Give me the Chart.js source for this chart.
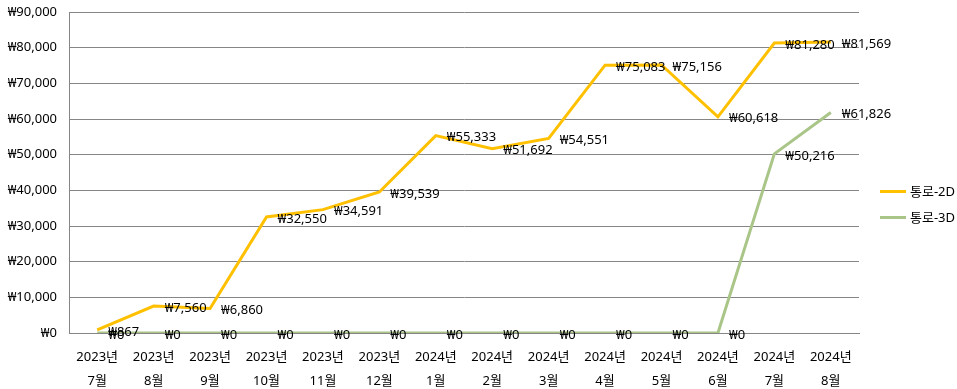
<!DOCTYPE html>
<html>
<head>
<meta charset="utf-8">
<script src="https://cdn.jsdelivr.net/npm/chart.js@4"></script>
<style>
  html, body { margin: 0; padding: 0; background: #fff; }
  #wrap { width: 957px; height: 389px; }
</style>
</head>
<body>
<div id="wrap"><canvas id="chart" width="957" height="389"></canvas></div>
<script>
// categories (year / month, shown on two lines)
const years = ['2023년', '2023년', '2023년', '2023년', '2023년', '2023년', '2024년',
               '2024년', '2024년', '2024년', '2024년', '2024년', '2024년', '2024년'];
const months = ['7월', '8월', '9월', '10월', '11월', '12월', '1월',
                '2월', '3월', '4월', '5월', '6월', '7월', '8월'];

// series values (won)
const values2D = [867, 7560, 6860, 32550, 34591, 39539, 55333,
                  51692, 54551, 75083, 75156, 60618, 81280, 81569];
const values3D = [0, 0, 0, 0, 0, 0, 0,
                  0, 0, 0, 0, 0, 50216, 61826];

// y axis
const yMin = 0;
const yMax = 90000;
const yStep = 10000;

const FONT = "'Noto Sans', 'Noto Sans CJK KR', sans-serif";
const won = v => '₩' + v.toLocaleString('en-US');

// draws each value to the right of its point
const pointLabels = {
    id: 'pointLabels',
    afterDatasetsDraw(chart) {
        const ctx = chart.ctx;
        ctx.save();
        ctx.font = '13px ' + FONT;
        ctx.fillStyle = '#000';
        ctx.textAlign = 'left';
        ctx.textBaseline = 'middle';
        chart.data.datasets.forEach((ds, i) => {
            const meta = chart.getDatasetMeta(i);
            meta.data.forEach((pt, j) => {
                ctx.fillText(won(ds.data[j]), pt.x + 11, pt.y + 2);
            });
        });
        ctx.restore();
    }
};

// excel-like legend to the right of the plot, line sample + name
const sideLegend = {
    id: 'sideLegend',
    afterDraw(chart) {
        const ctx = chart.ctx;
        const x = chart.chartArea.right + 21;
        let y = chart.height / 2 - 3;
        ctx.save();
        ctx.font = '13px ' + FONT;
        ctx.fillStyle = '#000';
        ctx.textAlign = 'left';
        ctx.textBaseline = 'middle';
        chart.data.datasets.forEach(ds => {
            ctx.strokeStyle = ds.borderColor;
            ctx.lineWidth = ds.borderWidth;
            ctx.beginPath();
            ctx.moveTo(x, y);
            ctx.lineTo(x + 26, y);
            ctx.stroke();
            ctx.fillText(ds.label, x + 30, y + 1);
            y += 26;
        });
        ctx.restore();
    }
};

new Chart(document.getElementById('chart'), {
    type: 'line',
    data: {
        labels: years.map((y, i) => [y, months[i]]),
        datasets: [
            {
                label: '통로-2D',
                data: values2D,
                borderColor: '#FFC000',
                backgroundColor: '#FFC000',
                borderWidth: 3,
                pointRadius: 0,
                tension: 0
            },
            {
                label: '통로-3D',
                data: values3D,
                borderColor: '#A9C587',
                backgroundColor: '#A9C587',
                borderWidth: 3,
                pointRadius: 0,
                tension: 0
            }
        ]
    },
    options: {
        responsive: false,
        animation: false,
        layout: { padding: { top: 12, left: 0, right: 98, bottom: 0 } },
        scales: {
            x: {
                offset: true,
                grid: { display: false, drawTicks: false },
                border: { color: '#868686', width: 1 },
                ticks: {
                    color: '#000',
                    font: { family: FONT, size: 13, lineHeight: 1.85 },
                    padding: 12,
                    maxRotation: 0,
                    autoSkip: false
                },
                afterFit(scale) { scale.height = 56; }
            },
            y: {
                min: yMin,
                max: yMax,
                grid: { color: '#868686', drawTicks: false },
                border: { color: '#868686', width: 1 },
                ticks: {
                    stepSize: yStep,
                    color: '#000',
                    font: { family: FONT, size: 13 },
                    padding: 12,
                    callback: v => won(v)
                },
                afterFit(scale) {
                    scale.width = 69;
                    scale.paddingTop = 0;
                    scale.paddingBottom = 0;
                }
            }
        },
        plugins: {
            legend: { display: false },
            tooltip: { enabled: false }
        }
    },
    plugins: [pointLabels, sideLegend]
});
</script>
</body>
</html>
